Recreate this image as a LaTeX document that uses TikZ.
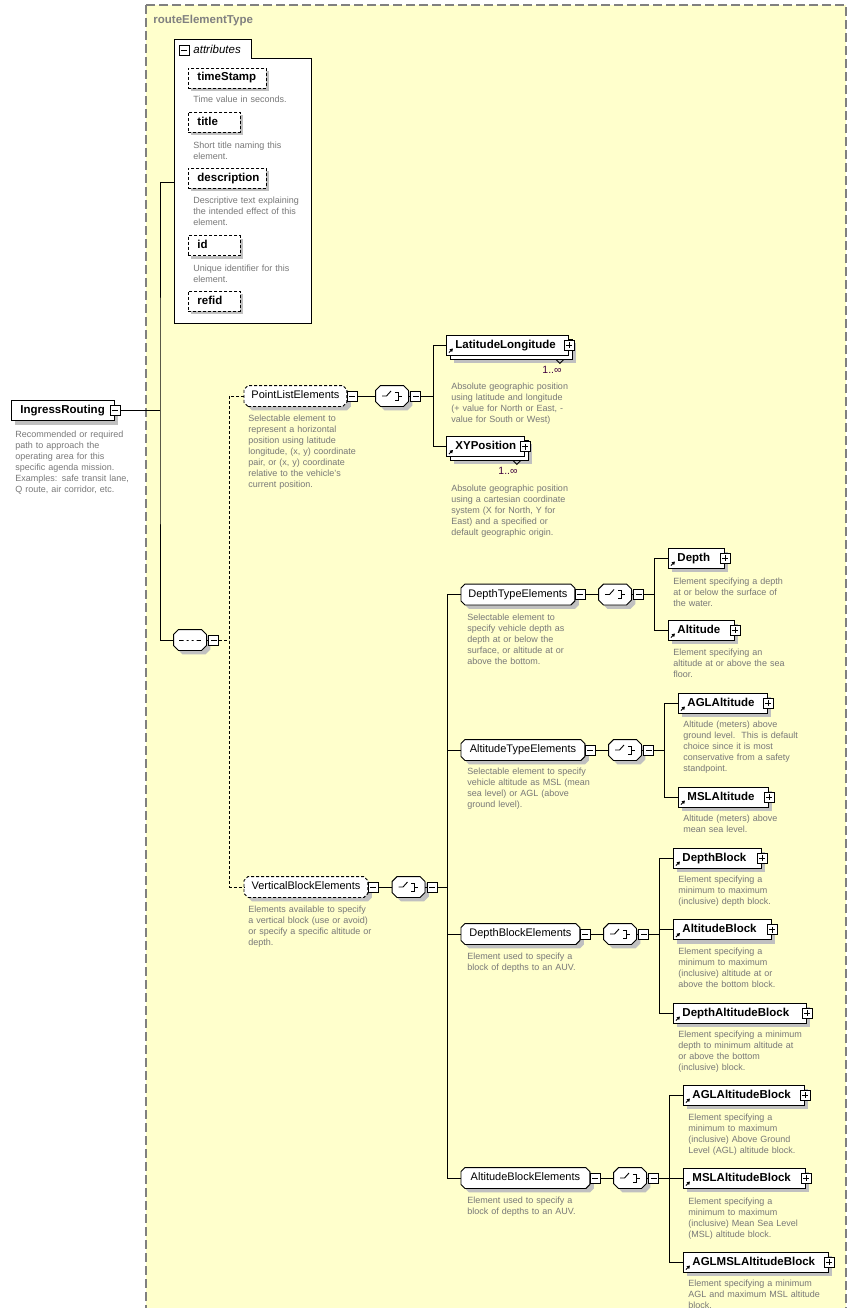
\documentclass[tikz,border=0pt]{standalone}
\usepackage{fontspec}
\setmainfont{Liberation Sans}
\usetikzlibrary{arrows.meta}
\usetikzlibrary{shadows,positioning}
\definecolor{schemabg}{RGB}{255,255,204}
\definecolor{schemaframe}{RGB}{128,128,128}
\definecolor{desctext}{RGB}{120,120,120}
\definecolor{shadowgray}{RGB}{192,192,192}
\definecolor{occurs}{RGB}{64,0,64}
\makeatletter
\newdimen\cutsize
\cutsize=4pt
\pgfdeclareshape{cutbox}{%
	\inheritsavedanchors[from=rectangle]%
	\inheritanchorborder[from=rectangle]%
	\inheritanchor[from=rectangle]{center}%
	\inheritanchor[from=rectangle]{north}%
	\inheritanchor[from=rectangle]{south}%
	\inheritanchor[from=rectangle]{east}%
	\inheritanchor[from=rectangle]{west}%
	\inheritanchor[from=rectangle]{north east}%
	\inheritanchor[from=rectangle]{north west}%
	\inheritanchor[from=rectangle]{south east}%
	\inheritanchor[from=rectangle]{south west}%
	\inheritanchor[from=rectangle]{base}%
	\inheritanchor[from=rectangle]{mid}%
	\backgroundpath{%
		\southwest\edef\cutxa{\the\pgf@x}\edef\cutya{\the\pgf@y}%
		\northeast\edef\cutxb{\the\pgf@x}\edef\cutyb{\the\pgf@y}%
		\pgf@xc=\cutxa\advance\pgf@xc by\cutsize\edef\cutxc{\the\pgf@xc}%
		\pgf@xc=\cutxb\advance\pgf@xc by-\cutsize\edef\cutxd{\the\pgf@xc}%
		\pgf@yc=\cutya\advance\pgf@yc by\cutsize\edef\cutyc{\the\pgf@yc}%
		\pgf@yc=\cutyb\advance\pgf@yc by-\cutsize\edef\cutyd{\the\pgf@yc}%
		\pgfpathmoveto{\pgfqpoint{\cutxc}{\cutya}}%
		\pgfpathlineto{\pgfqpoint{\cutxd}{\cutya}}%
		\pgfpathlineto{\pgfqpoint{\cutxb}{\cutyc}}%
		\pgfpathlineto{\pgfqpoint{\cutxb}{\cutyd}}%
		\pgfpathlineto{\pgfqpoint{\cutxd}{\cutyb}}%
		\pgfpathlineto{\pgfqpoint{\cutxc}{\cutyb}}%
		\pgfpathlineto{\pgfqpoint{\cutxa}{\cutyd}}%
		\pgfpathlineto{\pgfqpoint{\cutxa}{\cutyc}}%
		\pgfpathclose
	}%
}
\makeatother

\begin{document}
\begin{tikzpicture}[x=1pt,y=-1pt,line width=0.9pt,
	cut size/.code={\global\cutsize=#1},
	boxshadow/.style={drop shadow={shadow xshift=4pt,shadow yshift=-4pt,fill=shadowgray,opacity=1}},
	namebox/.style={draw,fill=white,anchor=west,minimum height=20,inner xsep=9pt,inner ysep=0pt,text width=#1,align=left,text height=8.5pt,text depth=2.5pt,font=\fontsize{11.5}{13}\selectfont\bfseries},
	rootbox/.style={namebox=#1,boxshadow},
	refbox/.style={namebox=#1,path picture={\draw[-{Triangle[length=3pt,width=3.5pt]},line width=1pt] ([shift={(2.5pt,2.5pt)}]path picture bounding box.south west) -- ++(4pt,4pt);}},
	elembox/.style={refbox=#1,boxshadow},
	stackbox/.style={draw,fill=white,anchor=west,minimum height=20,inner sep=0pt,boxshadow},
	attrbox/.style={namebox=#1,dash pattern=on 3pt off 2pt,drop shadow={shadow xshift=3pt,shadow yshift=-3pt,fill=shadowgray,opacity=1}},
	groupbox/.style={shape=cutbox,cut size=4pt,draw,fill=white,anchor=west,minimum height=20,inner sep=0pt,text height=8pt,text depth=2.5pt,font=\fontsize{11}{13}\selectfont,boxshadow},
	optgroup/.style={groupbox,dash pattern=on 3pt off 2pt},
	modelbox/.style={shape=cutbox,cut size=5pt,draw,fill=white,minimum width=32,minimum height=20,inner sep=0pt,boxshadow},
	choicebox/.style={modelbox,path picture={
		\path (path picture bounding box.center) coordinate (pc);
		\draw (pc) +(-10pt,0pt) -- +(-5.5pt,0pt) -- +(-1pt,5pt);
		\fill (pc) +(0pt,2.6pt) rectangle +(2.8pt,5.4pt) +(0pt,-1.4pt) rectangle +(2.8pt,1.4pt) +(0pt,-5.4pt) rectangle +(2.8pt,-2.6pt);
		\draw (pc) +(2.8pt,4pt) -- +(6pt,4pt) -- +(6pt,-4pt) -- +(2.8pt,-4pt) +(6pt,0pt) -- +(9.5pt,0pt);}},
	seqbox/.style={modelbox,path picture={
		\path (path picture bounding box.center) coordinate (pc);
		\draw (pc) +(-11pt,0pt) -- +(11pt,0pt);
		\fill (pc) +(-6.5pt,-1.5pt) rectangle +(-3.5pt,1.5pt) +(-1.5pt,-1.5pt) rectangle +(1.5pt,1.5pt) +(3.5pt,-1.5pt) rectangle +(6.5pt,1.5pt);}},
	plusbox/.style={draw,fill=white,minimum size=10,inner sep=0pt,line width=0.8pt,path picture={
		\draw ([xshift=2pt]path picture bounding box.west) -- ([xshift=-2pt]path picture bounding box.east);
		\draw ([yshift=-2pt]path picture bounding box.north) -- ([yshift=2pt]path picture bounding box.south);}},
	minusbox/.style={draw,fill=white,minimum size=10,inner sep=0pt,line width=0.8pt,path picture={
		\draw ([xshift=2pt]path picture bounding box.west) -- ([xshift=-2pt]path picture bounding box.east);}},
	desc/.style={anchor=base west,inner sep=0pt,text width=170pt,align=left,text=desctext,font=\fontsize{9}{11}\selectfont},
	occ/.style={anchor=base west,inner sep=0pt,text=occurs,font=\fontsize{10.5}{12}\selectfont},
	optlink/.style={dash pattern=on 3pt off 2pt}]
	\path[use as bounding box] (0,0) rectangle (863,1308);
	\draw[fill=schemabg,draw=schemaframe,line width=1.5pt,dash pattern=on 9pt off 4pt] (146,5) rectangle (846,1318);
	\node[anchor=base west,inner sep=0pt,text=schemaframe,font=\fontsize{11.5}{13}\selectfont\bfseries] (typename) at (153,24) {routeElementType};

	\node[rootbox=85pt] (ingress) at (11,410.5) {IngressRouting};
	\node[minusbox] (ingressminus) at (ingress.east) {};
	\node[desc] (ingressdesc) at (15,437) {Recommended or required\\path to approach the\\operating area for this\\specific agenda mission.\\Examples: safe transit lane,\\Q route, air corridor, etc.};

	\node[minimum width=137,minimum height=265,anchor=north west,inner sep=0pt] (attr) at (174,58) {};
	\draw[fill=white] (attr.south west) -- ([yshift=19pt]attr.north west) -- ([shift={(77pt,19pt)}]attr.north west) -- ([xshift=77pt]attr.north west) -- (attr.north east) -- (attr.south east) -- cycle;
	\node[minusbox] (attrminus) at (184,50.5) {};
	\node[anchor=base west,inner sep=0pt,font=\fontsize{11.5}{13}\selectfont\itshape] (attrname) at (193,54) {attributes};
	\node[attrbox=60pt] (timestamp) at (188,78) {timeStamp};
	\node[desc] (timestampdesc) at (193,103) {Time value in seconds.};
	\node[attrbox=34pt] (title) at (188,122.5) {title};
	\node[desc] (titledesc) at (193,148.5) {Short title naming this\\element.};
	\node[attrbox=60pt] (description) at (188,178.5) {description};
	\node[desc] (descriptiondesc) at (193,204) {Descriptive text explaining\\the intended effect of this\\element.};
	\node[attrbox=34pt] (id) at (188,245.5) {id};
	\node[desc] (iddesc) at (193,271) {Unique identifier for this\\element.};
	\node[attrbox=34pt] (refid) at (188,301) {refid};

	\node[seqbox] (seq) at (190,640) {};
	\node[minusbox,right=2pt of seq] (seqminus) {};
	\coordinate (spine) at (160,410.5);
	\draw (ingressminus.east) -- (spine);
	\draw ([yshift=8.5pt]attr.west) -| (spine) |- (seq.west);
	\draw (seq.east) -- (seqminus.west);

	\node[optgroup,minimum width=102] (pointlist) at (244,396) {PointListElements};
	\node[minusbox,right=0pt of pointlist] (pointlistminus) {};
	\node[desc] (pointlistdesc) at (248,421) {Selectable element to\\represent a horizontal\\position using latitude\\longitude, (x, y) coordinate\\pair, or (x, y) coordinate\\relative to the vehicle's\\current position.};
	\node[choicebox] (pointchoice) at (392,396) {};
	\node[minusbox,right=2pt of pointchoice] (pointchoiceminus) {};

	\node[stackbox,minimum width=122] (latlongback) at (450,349) {};
	\node[refbox=104pt] (latlong) at (446,345) {LatitudeLongitude};
	\node[plusbox] (latlongplus) at (latlong.east) {};
	\draw ([xshift=-17pt]latlongback.south east) -- ++(4pt,-4pt) -- ++(4pt,4pt);
	\node[occ] (latlongocc) at (542,373) {1..∞};
	\node[desc] (latlongdesc) at (451,389) {Absolute geographic position\\using latitude and longitude\\(+ value for North or East, -\\value for South or West)};

	\node[stackbox,minimum width=78] (xyposback) at (450,450) {};
	\node[refbox=60pt] (xypos) at (446,446.5) {XYPosition};
	\node[plusbox] (xyposplus) at (xypos.east) {};
	\draw ([xshift=-16pt]xyposback.south east) -- ++(4pt,-4pt) -- ++(4pt,4pt);
	\node[occ] (xyposocc) at (498,474) {1..∞};
	\node[desc] (xyposdesc) at (451,491) {Absolute geographic position\\using a cartesian coordinate\\system (X for North, Y for\\East) and a specified or\\default geographic origin.};

	\node[optgroup,minimum width=123] (vertical) at (244,887) {VerticalBlockElements};
	\node[minusbox,right=0pt of vertical] (verticalminus) {};
	\node[desc] (verticaldesc) at (248,912) {Elements available to specify\\a vertical block (use or avoid)\\or specify a specific altitude or\\depth.};
	\node[choicebox] (verticalchoice) at (408.5,887) {};
	\node[minusbox,right=2pt of verticalchoice] (verticalchoiceminus) {};

	\node[groupbox,minimum width=113] (depthtypes) at (461,594.5) {DepthTypeElements};
	\node[minusbox,right=0pt of depthtypes] (depthtypesminus) {};
	\node[desc] (depthtypesdesc) at (467,620) {Selectable element to\\specify vehicle depth as\\depth at or below the\\surface, or altitude at or\\above the bottom.};
	\node[choicebox] (depthtypeschoice) at (615,594.5) {};
	\node[minusbox,right=2pt of depthtypeschoice] (depthtypeschoiceminus) {};
	\node[elembox=38pt] (depth) at (668,558) {Depth};
	\node[plusbox] (depthplus) at (depth.east) {};
	\node[desc] (depthdesc) at (673,584) {Element specifying a depth\\at or below the surface of\\the water.};
	\node[elembox=48pt] (altitude) at (668,630) {Altitude};
	\node[plusbox] (altitudeplus) at (altitude.east) {};
	\node[desc] (altitudedesc) at (673,655) {Element specifying an\\altitude at or above the sea\\floor.};

	\node[groupbox,minimum width=123] (alttypes) at (461,750) {AltitudeTypeElements};
	\node[minusbox,right=0pt of alttypes] (alttypesminus) {};
	\node[desc] (alttypesdesc) at (467,774) {Selectable element to specify\\vehicle altitude as MSL (mean\\sea level) or AGL (above\\ground level).};
	\node[choicebox] (alttypeschoice) at (625,750) {};
	\node[minusbox,right=2pt of alttypeschoice] (alttypeschoiceminus) {};
	\node[elembox=71pt] (aglalt) at (678,703) {AGLAltitude};
	\node[plusbox] (aglaltplus) at (aglalt.east) {};
	\node[desc] (aglaltdesc) at (683,727) {Altitude (meters) above\\ground level.\ \ This is default\\choice since it is most\\conservative from a safety\\standpoint.};
	\node[elembox=72pt] (mslalt) at (678,797) {MSLAltitude};
	\node[plusbox] (mslaltplus) at (mslalt.east) {};
	\node[desc] (mslaltdesc) at (683,821) {Altitude (meters) above\\mean sea level.};

	\node[groupbox,minimum width=118] (depthblocks) at (461,934) {DepthBlockElements};
	\node[minusbox,right=0pt of depthblocks] (depthblocksminus) {};
	\node[desc] (depthblocksdesc) at (467,959) {Element used to specify a\\block of depths to an AUV.};
	\node[choicebox] (depthblockschoice) at (620,934) {};
	\node[minusbox,right=2pt of depthblockschoice] (depthblockschoiceminus) {};
	\node[elembox=70pt] (depthblock) at (673,858) {DepthBlock};
	\node[plusbox] (depthblockplus) at (depthblock.east) {};
	\node[desc] (depthblockdesc) at (678,882) {Element specifying a\\minimum to maximum\\(inclusive) depth block.};
	\node[elembox=80pt] (altblock) at (673,929.5) {AltitudeBlock};
	\node[plusbox] (altblockplus) at (altblock.east) {};
	\node[desc] (altblockdesc) at (678,954) {Element specifying a\\minimum to maximum\\(inclusive) altitude at or\\above the bottom block.};
	\node[elembox=115pt] (depthaltblock) at (673,1013) {DepthAltitudeBlock};
	\node[plusbox] (depthaltblockplus) at (depthaltblock.east) {};
	\node[desc] (depthaltblockdesc) at (678,1037) {Element specifying a minimum\\depth to minimum altitude at\\or above the bottom\\(inclusive) block.};

	\node[groupbox,minimum width=128] (altblocks) at (461,1178) {AltitudeBlockElements};
	\node[minusbox,right=0pt of altblocks] (altblocksminus) {};
	\node[desc] (altblocksdesc) at (467,1203) {Element used to specify a\\block of depths to an AUV.};
	\node[choicebox] (altblockschoice) at (630,1178) {};
	\node[minusbox,right=2pt of altblockschoice] (altblockschoiceminus) {};
	\node[elembox=103pt] (aglaltblock) at (683,1095) {AGLAltitudeBlock};
	\node[plusbox] (aglaltblockplus) at (aglaltblock.east) {};
	\node[desc] (aglaltblockdesc) at (688,1120) {Element specifying a\\minimum to maximum\\(inclusive) Above Ground\\Level (AGL) altitude block.};
	\node[elembox=104pt] (mslaltblock) at (683,1178) {MSLAltitudeBlock};
	\node[plusbox] (mslaltblockplus) at (mslaltblock.east) {};
	\node[desc] (mslaltblockdesc) at (688,1204) {Element specifying a\\minimum to maximum\\(inclusive) Mean Sea Level\\(MSL) altitude block.};
	\node[elembox=127pt] (aglmslaltblock) at (683,1262) {AGLMSLAltitudeBlock};
	\node[plusbox] (aglmslaltblockplus) at (aglmslaltblock.east) {};
	\node[desc] (aglmslaltblockdesc) at (688,1286) {Element specifying a minimum\\AGL and maximum MSL altitude\\block.};

	\draw[optlink] (seqminus.east) -- ++(10pt,0pt) coordinate (seqbus);
	\draw[optlink] (pointlist.west) -| (seqbus) |- (vertical.west);
	\draw (pointlistminus.east) -- (pointchoice.west);
	\draw (pointchoice.east) -- (pointchoiceminus.west);
	\draw (pointchoiceminus.east) -- ++(12pt,0pt) coordinate (pointbus);
	\draw (latlong.west) -| (pointbus) |- (xypos.west);
	\draw (verticalminus.east) -- (verticalchoice.west);
	\draw (verticalchoice.east) -- (verticalchoiceminus.west);
	\draw (verticalchoiceminus.east) -- ++(10pt,0pt) coordinate (verticalbus);
	\draw (depthtypes.west) -| (verticalbus) |- (altblocks.west);
	\draw (alttypes.west) -- (alttypes.west -| verticalbus);
	\draw (depthblocks.west) -- (depthblocks.west -| verticalbus);
	\draw (depthtypesminus.east) -- (depthtypeschoice.west);
	\draw (depthtypeschoice.east) -- (depthtypeschoiceminus.west);
	\draw (depthtypeschoiceminus.east) -- ++(10pt,0pt) coordinate (depthtypesbus);
	\draw (depth.west) -| (depthtypesbus) |- (altitude.west);
	\draw (alttypesminus.east) -- (alttypeschoice.west);
	\draw (alttypeschoice.east) -- (alttypeschoiceminus.west);
	\draw (alttypeschoiceminus.east) -- ++(10pt,0pt) coordinate (alttypesbus);
	\draw (aglalt.west) -| (alttypesbus) |- (mslalt.west);
	\draw (depthblocksminus.east) -- (depthblockschoice.west);
	\draw (depthblockschoice.east) -- (depthblockschoiceminus.west);
	\draw (depthblockschoiceminus.east) -- ++(10pt,0pt) coordinate (depthblocksbus);
	\draw (depthblock.west) -| (depthblocksbus) |- (depthaltblock.west);
	\draw (altblock.west) -- (altblock.west -| depthblocksbus);
	\draw (altblocksminus.east) -- (altblockschoice.west);
	\draw (altblockschoice.east) -- (altblockschoiceminus.west);
	\draw (altblockschoiceminus.east) -- ++(10pt,0pt) coordinate (altblocksbus);
	\draw (aglaltblock.west) -| (altblocksbus) |- (aglmslaltblock.west);
	\draw (mslaltblock.west) -- (mslaltblock.west -| altblocksbus);
\end{tikzpicture}
\end{document}
